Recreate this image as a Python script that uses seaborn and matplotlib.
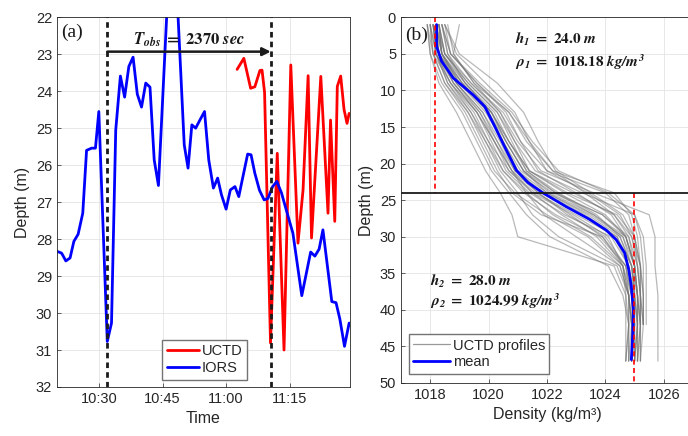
import numpy as np
import pandas as pd
import matplotlib
matplotlib.use("Agg")
import matplotlib.pyplot as plt
import seaborn as sns
from matplotlib.lines import Line2D

# panel (a): interface depth, time in minutes after 10:00
iors_time = [20.0, 21.1, 22.1, 23.1, 24.0, 25.0, 26.1, 27.0, 28.2, 29.1,
             29.9, 31.9, 32.9, 33.9, 35.0, 36.0, 37.0, 38.0, 39.0, 40.0,
             41.0, 42.0, 43.0, 44.0, 47.3, 50.1, 51.0, 51.9, 52.8, 53.9,
             54.9, 55.9, 57.0, 58.0, 58.9, 60.0, 61.0, 62.1, 63.0, 64.0,
             65.1, 65.9, 66.8, 67.9, 69.0, 69.9, 71.0, 72.0, 73.1, 74.2,
             75.8, 77.9, 80.0, 81.0, 82.0, 82.9, 85.0, 86.0, 86.9, 88.0, 89.1]
iors_depth = [28.33, 28.38, 28.59, 28.51, 28.06, 27.87, 27.30, 25.60, 25.54, 25.54,
              24.55, 30.77, 30.27, 25.05, 23.59, 24.16, 23.33, 23.08, 24.08, 24.43,
              23.78, 23.89, 25.86, 26.55, 18.80, 25.45, 26.08, 24.91, 25.00, 24.76,
              24.55, 25.86, 26.62, 26.35, 26.80, 27.19, 26.67, 26.58, 26.85, 26.30,
              25.70, 25.72, 26.22, 26.68, 26.94, 26.90, 26.58, 26.44, 26.75, 27.20,
              27.84, 29.53, 28.35, 28.46, 28.27, 27.75, 29.69, 29.72, 30.16, 30.90, 30.27]
uctd_time = [62.6, 64.2, 65.8, 66.8, 68.0, 68.5, 69.1, 70.5, 72.1, 73.7,
             75.3, 77.0, 78.2, 79.4, 80.2, 82.4, 84.1, 84.7, 85.7, 86.3,
             87.1, 87.9, 88.6, 89.1]
uctd_depth = [23.41, 23.11, 23.92, 23.88, 23.44, 23.43, 24.03, 30.81, 25.68, 31.00,
              23.29, 28.11, 26.67, 23.58, 27.97, 23.60, 27.30, 24.78, 27.52, 23.87,
              23.59, 24.50, 24.87, 24.60]
obs_start, obs_end = 31.9, 70.55
t_obs = 2370
time_ticks = [30, 45, 60, 75]
time_labels = ["10:30", "10:45", "11:00", "11:15"]

# panel (b): density profiles
profile_depths = [1, 5, 9, 13, 17, 21, 24, 27, 30, 34, 38, 42, 47]
profiles = [
    [1018.0, 1018.1, 1018.5, 1019.3, 1019.8, 1020.3, 1020.8, 1021.8, 1023.9, 1024.7, 1024.9, 1025.0, 1025.0],
    [1018.1, 1018.2, 1018.8, 1019.6, 1020.1, 1020.6, 1021.4, 1022.6, 1024.2, 1024.8, 1024.9, 1025.0, 1024.9],
    [1018.3, 1018.5, 1019.3, 1020.3, 1020.8, 1021.3, 1022.4, 1023.7, 1024.5, 1024.9, 1025.0, 1025.1, 1025.1],
    [1018.4, 1018.7, 1019.6, 1020.6, 1021.1, 1021.7, 1023.0, 1024.2, 1024.7, 1025.0, 1025.1, 1025.2, np.nan],
    [1017.9, 1018.0, 1018.3, 1018.9, 1019.4, 1019.9, 1020.4, 1020.8, 1021.0, 1024.3, 1024.7, 1024.8, 1024.8],
    [1018.2, 1018.4, 1019.1, 1020.1, 1020.6, 1021.2, 1022.0, 1023.4, 1024.5, 1024.9, 1025.0, 1025.0, 1024.9],
    [1018.5, 1018.9, 1019.9, 1020.9, 1021.4, 1022.0, 1023.4, 1024.5, 1024.9, 1025.1, 1025.2, 1025.2, 1025.2],
    [1018.1, 1018.2, 1018.7, 1019.5, 1020.0, 1020.5, 1021.2, 1022.3, 1023.8, 1024.7, 1024.8, 1024.8, 1024.7],
    [1018.3, 1018.4, 1019.0, 1019.9, 1020.5, 1021.1, 1022.2, 1023.9, 1024.8, 1025.1, 1025.2, 1025.2, np.nan],
    [1018.2, 1018.3, 1018.9, 1019.8, 1020.3, 1020.8, 1021.5, 1022.9, 1024.1, 1024.6, 1024.7, 1024.7, 1024.7],
    [1018.4, 1018.6, 1019.4, 1020.4, 1021.0, 1021.8, 1023.6, 1025.5, 1025.7, 1025.7, 1025.8, 1025.8, 1025.8],
    [1018.0, 1018.2, 1018.6, 1019.4, 1020.0, 1020.7, 1021.6, 1023.0, 1024.4, 1024.9, 1025.1, 1025.2, 1025.1],
    [1018.6, 1018.8, 1019.5, 1020.4, 1020.9, 1021.4, 1022.6, 1024.0, 1024.7, 1025.0, 1025.1, 1025.1, 1025.0],
    [1018.1, 1018.3, 1018.9, 1019.7, 1020.2, 1020.8, 1021.7, 1022.8, 1023.9, 1024.6, 1024.8, 1024.9, 1024.9],
    [1018.2, 1018.4, 1019.2, 1020.2, 1020.7, 1021.4, 1022.9, 1024.3, 1024.9, 1025.2, 1025.3, 1025.3, np.nan],
    [1019.0, 1018.8, 1019.5, 1020.7, 1021.4, 1022.2, 1023.3, 1024.3, 1024.8, 1025.0, 1025.1, 1025.1, np.nan],
    [1018.3, 1018.4, 1019.0, 1020.0, 1020.5, 1021.0, 1021.8, 1023.2, 1024.3, 1024.8, 1025.0, 1025.1, 1025.1],
    [1017.9, 1018.1, 1018.5, 1019.2, 1019.7, 1020.2, 1020.9, 1022.0, 1023.4, 1024.5, 1024.8, 1024.8, 1024.8],
    [1018.2, 1018.3, 1019.0, 1020.1, 1020.7, 1021.3, 1022.3, 1023.6, 1024.6, 1025.0, 1025.1, 1025.1, 1025.0],
    [1018.3, 1018.5, 1019.3, 1020.3, 1020.9, 1021.6, 1023.2, 1025.0, 1025.3, 1025.4, 1025.4, 1025.4, np.nan],
    [1018.2, 1018.4, 1018.9, 1019.8, 1020.4, 1020.9, 1021.7, 1022.7, 1024.0, 1024.7, 1024.9, 1024.9, 1024.9],
    [1018.1, 1018.3, 1019.1, 1020.0, 1020.5, 1021.0, 1022.0, 1023.5, 1024.6, 1024.9, 1025.0, 1025.0, 1025.0],
    [1018.4, 1018.6, 1019.2, 1020.1, 1020.6, 1021.2, 1022.3, 1023.9, 1024.7, 1025.0, 1025.1, 1025.2, 1025.2],
    [1018.0, 1018.1, 1018.7, 1019.6, 1020.2, 1020.7, 1021.5, 1022.5, 1023.7, 1024.6, 1024.8, 1024.9, 1024.9],
    [1018.5, 1019.0, 1020.3, 1021.2, 1021.7, 1022.3, 1023.5, 1024.6, 1025.0, 1025.2, 1025.2, 1025.3, np.nan],
    [1018.2, 1018.5, 1019.4, 1020.5, 1021.1, 1022.0, 1024.0, 1024.8, 1025.0, 1025.1, 1025.2, 1025.2, 1025.1],
    [1018.4, 1018.7, 1019.6, 1020.7, 1021.3, 1022.2, 1024.3, 1024.9, 1025.1, 1025.2, 1025.2, 1025.3, np.nan],
    [1018.1, 1018.3, 1018.8, 1019.6, 1020.2, 1020.8, 1021.3, 1021.9, 1023.0, 1024.5, 1024.8, 1024.9, 1024.9],
    [1018.0, 1018.2, 1018.7, 1019.4, 1019.9, 1020.4, 1021.0, 1021.5, 1022.4, 1024.4, 1024.8, 1024.9, 1024.8],
    [1018.3, 1018.5, 1019.2, 1020.1, 1020.7, 1021.4, 1022.7, 1024.4, 1025.0, 1025.2, 1025.3, 1025.3, 1025.2],
    [1018.2, 1018.3, 1018.8, 1019.7, 1020.3, 1020.9, 1021.9, 1023.3, 1024.4, 1024.8, 1024.9, 1025.0, 1024.9],
    [1018.5, 1018.7, 1019.7, 1020.8, 1021.5, 1022.4, 1024.1, 1025.0, 1025.2, 1025.3, 1025.3, 1025.3, np.nan],
    [1018.1, 1018.2, 1018.6, 1019.3, 1019.9, 1020.5, 1021.3, 1022.2, 1023.5, 1024.6, 1024.9, 1025.0, 1024.9],
    [1018.3, 1018.4, 1019.1, 1020.0, 1020.6, 1021.2, 1022.1, 1023.6, 1024.7, 1025.0, 1025.0, 1025.1, 1025.0],
    [1017.9, 1018.0, 1018.4, 1019.1, 1019.6, 1020.1, 1020.7, 1021.3, 1022.1, 1024.1, 1024.6, 1024.8, 1024.7],
]
mean_depth = [1, 4, 6, 8.3, 10.6, 12.2, 14.9, 17.7, 20.9, 22.6, 24.0,
              25.9, 27.6, 29.1, 30.4, 32.2, 34.5, 36.8, 40.0, 43.2, 46.8]
mean_density = [1018.22, 1018.22, 1018.39, 1018.79, 1019.47, 1019.87, 1020.21,
                1020.55, 1020.95, 1021.35, 1021.86, 1022.66, 1023.45, 1024.03,
                1024.37, 1024.66, 1024.80, 1024.89, 1024.96, 1024.94, 1024.89]
h1, rho1 = 24.0, 1018.18
h2, rho2 = 28.0, 1024.99

txt = "#262626"
sns.set_theme(style="whitegrid", rc={
    "grid.color": "#e4e4e4", "grid.linewidth": 0.6,
    "axes.edgecolor": txt, "axes.linewidth": 0.6,
    "xtick.color": txt, "ytick.color": txt,
    "axes.labelcolor": txt, "text.color": txt,
    "xtick.direction": "in", "ytick.direction": "in",
    "xtick.bottom": True, "ytick.left": True,
    "xtick.major.size": 3, "ytick.major.size": 3,
    "xtick.major.width": 0.5, "ytick.major.width": 0.5,
    "xtick.labelsize": 10.5, "ytick.labelsize": 10.5,
    "axes.labelsize": 11.5, "mathtext.fontset": "stix",
})
plt.rcParams["font.family"] = ["Liberation Sans", "DejaVu Sans"]

fig = plt.figure(figsize=(6.88, 4.36), dpi=100)
ax1 = fig.add_axes([0.0828, 0.1124, 0.4259, 0.848])
ax2 = fig.add_axes([0.5828, 0.1216, 0.4244, 0.8387])

# ---- (a)
sns.lineplot(x=uctd_time, y=uctd_depth, sort=False, color="red", lw=2, ax=ax1, label="UCTD")
sns.lineplot(x=iors_time, y=iors_depth, sort=False, color="blue", lw=2, ax=ax1, label="IORS")
for t in (obs_start, obs_end):
    ax1.axvline(t, color="k", lw=2, ls=(0, (2, 1.5)), zorder=5)
ax1.annotate("", xy=(obs_end, 22.93), xytext=(obs_start, 22.93),
             arrowprops=dict(arrowstyle="-|>", color="k", lw=1.8, mutation_scale=12,
                             shrinkA=0, shrinkB=0), zorder=6)
ax1.text((obs_start + obs_end) / 2, 22.62,
         r"$\mathbfit{T_{obs}}\ \mathbf{=\ %d}\ \mathbfit{sec}$" % t_obs,
         ha="center", va="center", fontsize=12, color="k", zorder=7)
ax1.text(0.014, 0.958, "(a)", transform=ax1.transAxes, family="Liberation Serif",
         fontsize=14, color="k", va="center", ha="left")
ax1.set_xlim(20, 89.3)
ax1.set_ylim(32, 22)
ax1.set_yticks(range(22, 33))
ax1.set_xticks(time_ticks)
ax1.set_xticklabels(time_labels)
ax1.set_xlabel("Time")
ax1.set_ylabel("Depth (m)")
ax1.legend(loc="lower left", bbox_to_anchor=(0.36, 0.02), fontsize=10.5, frameon=True,
           fancybox=False, framealpha=1, edgecolor="0.45", handlelength=2.2,
           handletextpad=0.2, borderpad=0.3, labelspacing=0.2, borderaxespad=0)

# ---- (b)
rows = [{"profile": i, "depth": d, "density": r}
        for i, prof in enumerate(profiles)
        for d, r in zip(profile_depths, prof)]
df = pd.DataFrame(rows).dropna()
sns.lineplot(data=df, x="density", y="depth", units="profile", estimator=None,
             orient="y", color="0.45", alpha=0.5, lw=0.9, ax=ax2, legend=False)
sns.lineplot(x=mean_density, y=mean_depth, orient="y", sort=False, color="blue",
             lw=2, ax=ax2, legend=False)
ax2.plot([rho1, rho1], [0, h1], color="red", lw=1.2, ls=(0, (3, 2)))
ax2.plot([rho2, rho2], [h1, 50], color="red", lw=1.2, ls=(0, (3, 2)))
ax2.axhline(h1, color="k", lw=1.3)
ax2.text(1020.9, 3.0, r"$\mathbfit{h_1}\ \mathbf{=\ %.1f}\ \mathbfit{m}$" % h1,
         fontsize=11, color="k", va="center")
ax2.text(1020.9, 6.2, r"$\mathbfit{\rho_1}\ \mathbf{=\ %.2f}\ \mathbfit{kg/m^3}$" % rho1,
         fontsize=11, color="k", va="center")
ax2.text(1018.0, 36.1, r"$\mathbfit{h_2}\ \mathbf{=\ %.1f}\ \mathbfit{m}$" % h2,
         fontsize=11, color="k", va="center")
ax2.text(1018.0, 38.8, r"$\mathbfit{\rho_2}\ \mathbf{=\ %.2f}\ \mathbfit{kg/m^3}$" % rho2,
         fontsize=11, color="k", va="center")
ax2.text(0.014, 0.952, "(b)", transform=ax2.transAxes, family="Liberation Serif",
         fontsize=14, color="k", va="center", ha="left")
ax2.set_xlim(1017, 1027)
ax2.set_ylim(50, 0)
ax2.set_xticks([1018, 1020, 1022, 1024, 1026])
ax2.set_yticks(range(0, 51, 5))
ax2.set_xlabel("Density (kg/m³)")
ax2.set_ylabel("Depth (m)")
handles = [Line2D([], [], color="0.6", lw=0.9), Line2D([], [], color="blue", lw=2)]
ax2.legend(handles, ["UCTD profiles", "mean"], loc="lower left",
           bbox_to_anchor=(0.027, 0.025), fontsize=10.5, frameon=True, fancybox=False,
           framealpha=1, edgecolor="0.45", handlelength=2.5, handletextpad=0.2,
           borderpad=0.3, labelspacing=0.2, borderaxespad=0)

fig.savefig("out.png", dpi=100)
